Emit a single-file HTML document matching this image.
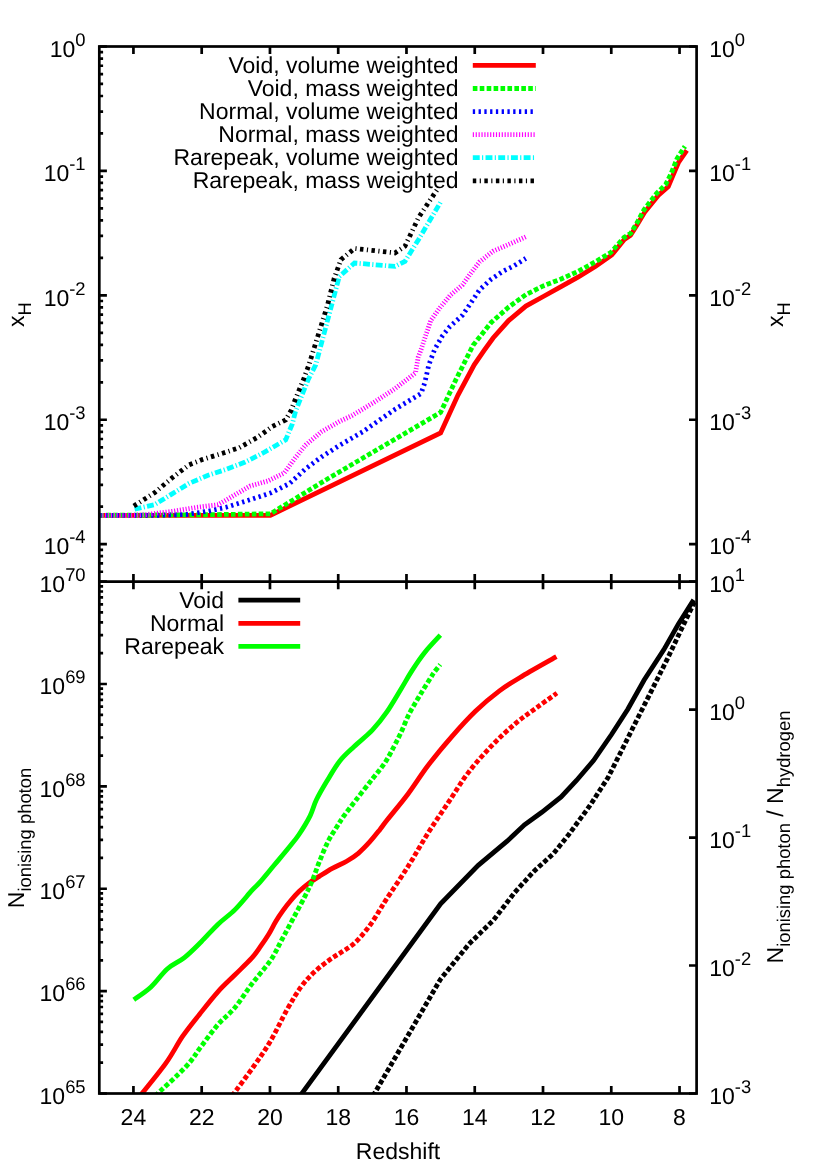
<!DOCTYPE html>
<html><head><meta charset="utf-8"><title>plot</title>
<style>html,body{margin:0;padding:0;background:#fff}svg{display:block;will-change:transform}text{text-rendering:geometricPrecision}</style></head>
<body>
<svg width="830" height="1163" viewBox="0 0 830 1163">
<rect width="100%" height="100%" fill="#fff"/>
<defs><clipPath id="cu"><rect x="99.30" y="46.50" width="597.30" height="535.10"/></clipPath>
<clipPath id="cl"><rect x="99.30" y="581.60" width="597.30" height="511.90"/></clipPath></defs>
<polyline points="99.3,515.3 270.4,515.3 440.6,433.0 458.0,395.0 474.2,364.8 484.5,349.9 493.1,338.0 508.6,320.6 525.9,306.1 543.3,296.5 560.6,286.9 578.0,277.2 595.3,266.6 611.7,255.1 624.3,239.6 630.5,235.4 637.0,225.0 644.6,212.3 658.2,195.4 668.3,186.6 672.7,176.0 678.7,162.1 686.8,150.3" fill="none" stroke="#ff0000" stroke-width="4.80" stroke-linejoin="miter" clip-path="url(#cu)"/>
<polyline points="99.3,515.3 200.0,514.8 270.4,513.8 330.0,477.4 440.6,412.4 455.8,379.9 473.1,345.2 491.2,322.5 508.6,307.1 525.9,294.6 543.3,285.9 560.6,279.2 578.0,271.4 595.3,261.8 610.8,252.5 624.1,237.4 630.7,233.2 637.3,222.3 644.0,209.7 656.6,193.4 665.7,184.4 671.1,173.6 677.1,158.5 684.9,146.4" fill="none" stroke="#00ff00" stroke-width="4.80" stroke-linejoin="miter" stroke-dasharray="4.62 2.31" clip-path="url(#cu)"/>
<polyline points="99.3,515.3 160.0,515.3 186.3,514.5 207.5,511.3 226.0,507.3 247.2,500.7 271.1,492.8 289.6,483.5 305.5,468.9 321.4,457.0 340.0,445.1 362.5,431.9 395.1,409.2 421.1,393.5 424.9,382.3 428.8,364.9 434.6,349.5 442.3,336.0 450.0,326.4 462.4,315.3 470.0,304.2 479.6,289.8 491.2,279.2 502.8,271.4 514.3,265.7 525.8,258.4" fill="none" stroke="#0000ff" stroke-width="4.80" stroke-linejoin="miter" stroke-dasharray="2.31 3.46" clip-path="url(#cu)"/>
<polyline points="99.3,515.3 133.0,515.3 146.5,514.5 173.0,511.3 196.9,507.3 218.1,504.7 234.0,495.4 249.9,486.1 268.4,480.8 284.3,472.9 294.9,458.3 305.5,445.1 321.4,431.8 340.0,421.2 351.7,415.7 373.4,402.7 395.1,388.6 415.5,372.9 418.2,357.2 421.1,349.5 424.9,338.0 430.7,320.6 440.4,307.1 450.0,295.5 462.4,285.0 470.0,274.3 479.6,261.8 493.1,251.2 508.6,244.5 526.3,236.6" fill="none" stroke="#ff00ff" stroke-width="4.80" stroke-linejoin="miter" stroke-dasharray="1.16 1.73" clip-path="url(#cu)"/>
<polyline points="134.6,509.2 154.5,504.7 171.7,494.1 188.9,483.5 207.5,475.5 226.0,469.4 244.6,462.3 263.1,453.0 285.7,439.8 292.3,423.9 295.5,411.3 308.0,380.0 315.7,364.9 332.5,301.8 339.3,276.5 354.5,263.0 395.0,266.4 405.0,261.3 418.6,239.4 440.5,202.3" fill="none" stroke="#00ffff" stroke-width="4.80" stroke-linejoin="miter" stroke-dasharray="6.93 2.31 1.16 2.31" clip-path="url(#cu)"/>
<polyline points="133.8,506.0 154.5,492.8 171.7,478.2 188.9,464.9 202.2,459.6 223.4,453.0 239.3,447.7 257.8,437.1 272.4,426.5 285.7,419.9 291.0,410.6 295.5,398.8 303.3,380.0 308.9,364.9 327.5,305.2 334.2,278.2 341.0,259.6 354.5,248.5 395.0,252.9 405.0,246.2 418.6,217.5 438.8,187.1" fill="none" stroke="#000000" stroke-width="4.80" stroke-linejoin="miter" stroke-dasharray="3.46 3.46 1.16 3.46" clip-path="url(#cu)"/>
<polyline points="300.0,1096.0 440.6,903.9 478.2,865.3 507.1,841.2 524.5,824.8 541.8,812.3 561.1,796.9 576.5,780.5 593.5,760.6 611.5,734.5 627.8,709.2 644.0,680.3 663.9,649.6 678.3,624.3 693.7,599.9" fill="none" stroke="#000000" stroke-width="4.80" stroke-linejoin="miter" clip-path="url(#cl)"/>
<polyline points="373.0,1096.0 440.3,979.5 468.9,944.1 493.6,920.0 514.8,892.3 534.1,871.1 553.4,853.7 568.8,834.5 590.0,805.5 607.9,777.8 622.4,748.9 636.8,720.0 651.3,691.1 667.5,658.6 682.0,627.9 694.6,601.7" fill="none" stroke="#000000" stroke-width="4.80" stroke-linejoin="miter" stroke-dasharray="4.62 2.31" clip-path="url(#cl)"/>
<path d="M140.00 1096.00C144.32 1090.53 158.78 1073.17 165.90 1063.20C173.02 1053.23 177.08 1044.37 182.70 1036.20C188.32 1028.03 193.70 1021.63 199.60 1014.20C205.50 1006.77 212.20 998.17 218.10 991.60C224.00 985.03 229.37 980.42 235.00 974.80C240.63 969.18 247.73 962.50 251.90 957.90C256.07 953.30 257.20 951.15 260.00 947.20C262.80 943.25 266.05 938.53 268.70 934.20C271.35 929.87 273.50 925.17 275.90 921.20C278.30 917.23 280.68 913.77 283.10 910.40C285.52 907.03 287.75 904.13 290.40 901.00C293.05 897.87 295.87 894.62 299.00 891.60C302.13 888.58 305.82 885.43 309.20 882.90C312.58 880.37 315.45 878.82 319.30 876.40C323.15 873.98 327.73 870.93 332.30 868.40C336.87 865.87 342.37 863.72 346.70 861.20C351.03 858.68 354.43 856.55 358.30 853.30C362.17 850.05 366.28 845.68 369.90 841.70C373.52 837.72 377.03 833.13 380.00 829.40C382.97 825.67 383.03 825.20 387.70 819.30C392.37 813.40 401.25 803.00 408.00 794.00C414.75 785.00 420.90 774.87 428.20 765.30C435.50 755.73 443.93 745.60 451.80 736.60C459.67 727.60 467.52 718.88 475.40 711.30C483.28 703.72 491.22 697.00 499.10 691.10C506.98 685.20 513.15 681.63 522.70 675.90C532.25 670.17 550.78 659.90 556.40 656.70" fill="none" stroke="#ff0000" stroke-width="4.80" stroke-linejoin="round" clip-path="url(#cl)"/>
<path d="M232.00 1096.00C235.60 1091.08 247.20 1075.63 253.60 1066.50C260.00 1057.37 264.78 1050.75 270.40 1041.20C276.02 1031.65 282.23 1018.20 287.30 1009.20C292.37 1000.20 296.30 993.38 300.80 987.20C305.30 981.02 309.53 976.63 314.30 972.10C319.07 967.57 324.72 963.42 329.40 960.00C334.08 956.58 338.30 954.33 342.40 951.60C346.50 948.87 350.38 946.73 354.00 943.60C357.62 940.47 360.97 936.53 364.10 932.80C367.23 929.07 370.15 925.07 372.80 921.20C375.45 917.33 377.80 913.15 380.00 909.60C382.20 906.05 381.33 907.08 386.00 899.90C390.67 892.72 400.97 877.68 408.00 866.50C415.03 855.32 421.47 843.48 428.20 832.80C434.93 822.12 441.65 812.52 448.40 802.40C455.15 792.28 461.38 781.65 468.70 772.10C476.02 762.55 484.43 753.27 492.30 745.10C500.17 736.93 508.58 729.28 515.90 723.10C523.22 716.92 529.37 713.00 536.20 708.00C543.03 703.00 553.45 695.58 556.90 693.10" fill="none" stroke="#ff0000" stroke-width="4.80" stroke-linejoin="round" stroke-dasharray="4.62 2.31" clip-path="url(#cl)"/>
<path d="M133.80 999.70C136.62 997.62 145.08 992.37 150.70 987.20C156.32 982.03 161.88 973.63 167.50 968.70C173.12 963.77 178.77 962.10 184.40 957.60C190.03 953.10 195.68 947.27 201.30 941.70C206.92 936.13 212.48 929.55 218.10 924.20C223.72 918.85 229.37 915.23 235.00 909.60C240.63 903.97 247.73 894.97 251.90 890.40C256.07 885.83 256.23 886.47 260.00 882.20C263.77 877.93 269.68 870.58 274.50 864.80C279.32 859.02 284.82 852.55 288.90 847.50C292.98 842.45 295.47 839.77 299.00 834.50C302.53 829.23 307.22 821.65 310.10 815.90C312.98 810.15 313.47 805.85 316.30 800.00C319.13 794.15 323.18 787.30 327.10 780.80C331.02 774.30 335.28 766.72 339.80 761.00C344.32 755.28 348.78 751.63 354.20 746.50C359.62 741.37 366.88 735.92 372.30 730.20C377.72 724.48 381.88 719.12 386.70 712.20C391.52 705.28 396.98 695.63 401.20 688.70C405.42 681.77 408.08 676.63 412.00 670.60C415.92 664.57 419.98 658.40 424.70 652.50C429.42 646.60 437.70 638.08 440.30 635.20" fill="none" stroke="#00ff00" stroke-width="4.80" stroke-linejoin="round" clip-path="url(#cl)"/>
<path d="M155.00 1096.00C160.18 1091.08 178.38 1074.78 186.10 1066.50C193.82 1058.22 195.97 1053.32 201.30 1046.30C206.63 1039.28 212.48 1030.87 218.10 1024.40C223.72 1017.93 229.37 1014.25 235.00 1007.50C240.63 1000.75 245.93 991.82 251.90 983.90C257.87 975.98 265.83 967.32 270.80 960.00C275.77 952.68 277.95 946.95 281.70 940.00C285.45 933.05 289.45 925.53 293.30 918.30C297.15 911.07 301.68 902.75 304.80 896.60C307.92 890.45 309.58 887.18 312.00 881.40C314.42 875.62 316.65 868.52 319.30 861.90C321.95 855.28 325.02 847.48 327.90 841.70C330.78 835.92 333.93 831.50 336.60 827.20C339.27 822.90 340.67 820.43 343.90 815.90C347.13 811.37 351.27 806.15 356.00 800.00C360.73 793.85 367.48 785.20 372.30 779.00C377.12 772.80 381.28 768.22 384.90 762.80C388.52 757.38 391.28 751.62 394.00 746.50C396.72 741.38 398.77 737.35 401.20 732.10C403.63 726.85 406.08 720.13 408.60 715.00C411.12 709.87 413.87 705.52 416.30 701.30C418.73 697.08 420.83 693.58 423.20 689.70C425.57 685.82 428.63 680.95 430.50 678.00C432.37 675.05 432.78 674.25 434.40 672.00C436.02 669.75 439.23 665.75 440.20 664.50" fill="none" stroke="#00ff00" stroke-width="4.80" stroke-linejoin="round" stroke-dasharray="4.62 2.31" clip-path="url(#cl)"/>
<polyline points="472.8,65.4 535.8,65.4" fill="none" stroke="#ff0000" stroke-width="4.80" stroke-linejoin="miter"/>
<text x="458.6" y="72.9" text-anchor="end" style="font-family:'Liberation Sans',sans-serif;fill:#000;font-size:23.00px">Void, volume weighted</text>
<polyline points="472.8,88.5 535.8,88.5" fill="none" stroke="#00ff00" stroke-width="4.80" stroke-linejoin="miter" stroke-dasharray="4.62 2.31"/>
<text x="458.6" y="96.0" text-anchor="end" style="font-family:'Liberation Sans',sans-serif;fill:#000;font-size:23.00px">Void, mass weighted</text>
<polyline points="472.8,111.6 535.8,111.6" fill="none" stroke="#0000ff" stroke-width="4.80" stroke-linejoin="miter" stroke-dasharray="2.31 3.46"/>
<text x="458.6" y="119.1" text-anchor="end" style="font-family:'Liberation Sans',sans-serif;fill:#000;font-size:23.00px">Normal, volume weighted</text>
<polyline points="472.8,134.6 535.8,134.6" fill="none" stroke="#ff00ff" stroke-width="4.80" stroke-linejoin="miter" stroke-dasharray="1.16 1.73"/>
<text x="458.6" y="142.1" text-anchor="end" style="font-family:'Liberation Sans',sans-serif;fill:#000;font-size:23.00px">Normal, mass weighted</text>
<polyline points="472.8,157.7 535.8,157.7" fill="none" stroke="#00ffff" stroke-width="4.80" stroke-linejoin="miter" stroke-dasharray="6.93 2.31 1.16 2.31"/>
<text x="458.6" y="165.2" text-anchor="end" style="font-family:'Liberation Sans',sans-serif;fill:#000;font-size:23.00px">Rarepeak, volume weighted</text>
<polyline points="472.8,180.8 535.8,180.8" fill="none" stroke="#000000" stroke-width="4.80" stroke-linejoin="miter" stroke-dasharray="3.46 3.46 1.16 3.46"/>
<text x="458.6" y="188.3" text-anchor="end" style="font-family:'Liberation Sans',sans-serif;fill:#000;font-size:23.00px">Rarepeak, mass weighted</text>
<polyline points="238.4,600.2 300.2,600.2" fill="none" stroke="#000" stroke-width="4.80" stroke-linejoin="miter"/>
<text x="224" y="607.7" text-anchor="end" style="font-family:'Liberation Sans',sans-serif;fill:#000;font-size:23.00px">Void</text>
<polyline points="238.4,623.3 300.2,623.3" fill="none" stroke="#ff0000" stroke-width="4.80" stroke-linejoin="miter"/>
<text x="224" y="630.8" text-anchor="end" style="font-family:'Liberation Sans',sans-serif;fill:#000;font-size:23.00px">Normal</text>
<polyline points="238.4,646.4 300.2,646.4" fill="none" stroke="#00ff00" stroke-width="4.80" stroke-linejoin="miter"/>
<text x="224" y="653.9" text-anchor="end" style="font-family:'Liberation Sans',sans-serif;fill:#000;font-size:23.00px">Rarepeak</text>
<path d="M679.53 46.50L679.53 54.10M679.53 574.00L679.53 589.20M679.53 1093.50L679.53 1085.90M611.27 46.50L611.27 54.10M611.27 574.00L611.27 589.20M611.27 1093.50L611.27 1085.90M543.01 46.50L543.01 54.10M543.01 574.00L543.01 589.20M543.01 1093.50L543.01 1085.90M474.75 46.50L474.75 54.10M474.75 574.00L474.75 589.20M474.75 1093.50L474.75 1085.90M406.48 46.50L406.48 54.10M406.48 574.00L406.48 589.20M406.48 1093.50L406.48 1085.90M338.22 46.50L338.22 54.10M338.22 574.00L338.22 589.20M338.22 1093.50L338.22 1085.90M269.96 46.50L269.96 54.10M269.96 574.00L269.96 589.20M269.96 1093.50L269.96 1085.90M201.69 46.50L201.69 54.10M201.69 574.00L201.69 589.20M201.69 1093.50L201.69 1085.90M133.43 46.50L133.43 54.10M133.43 574.00L133.43 589.20M133.43 1093.50L133.43 1085.90M99.30 544.15L106.90 544.15M696.60 544.15L689.00 544.15M99.30 419.74L106.90 419.74M696.60 419.74L689.00 419.74M99.30 295.32L106.90 295.32M696.60 295.32L689.00 295.32M99.30 170.91L106.90 170.91M696.60 170.91L689.00 170.91M99.30 46.50L106.90 46.50M696.60 46.50L689.00 46.50M99.30 581.60L103.10 581.60M99.30 571.75L103.10 571.75M99.30 563.42L103.10 563.42M99.30 556.21L103.10 556.21M99.30 549.84L103.10 549.84M99.30 506.70L103.10 506.70M99.30 484.79L103.10 484.79M99.30 469.24L103.10 469.24M99.30 457.19L103.10 457.19M99.30 447.34L103.10 447.34M99.30 439.01L103.10 439.01M99.30 431.79L103.10 431.79M99.30 425.43L103.10 425.43M99.30 382.28L103.10 382.28M99.30 360.38L103.10 360.38M99.30 344.83L103.10 344.83M99.30 332.78L103.10 332.78M99.30 322.92L103.10 322.92M99.30 314.60L103.10 314.60M99.30 307.38L103.10 307.38M99.30 301.02L103.10 301.02M99.30 257.87L103.10 257.87M99.30 235.96L103.10 235.96M99.30 220.42L103.10 220.42M99.30 208.36L103.10 208.36M99.30 198.51L103.10 198.51M99.30 190.18L103.10 190.18M99.30 182.97L103.10 182.97M99.30 176.60L103.10 176.60M99.30 133.46L103.10 133.46M99.30 111.55L103.10 111.55M99.30 96.01L103.10 96.01M99.30 83.95L103.10 83.95M99.30 74.10L103.10 74.10M99.30 65.77L103.10 65.77M99.30 58.56L103.10 58.56M99.30 52.19L103.10 52.19M99.30 1093.50L106.90 1093.50M99.30 991.12L106.90 991.12M99.30 888.74L106.90 888.74M99.30 786.36L106.90 786.36M99.30 683.98L106.90 683.98M99.30 581.60L106.90 581.60M99.30 1062.68L103.10 1062.68M99.30 1044.65L103.10 1044.65M99.30 1031.86L103.10 1031.86M99.30 1021.94L103.10 1021.94M99.30 1013.83L103.10 1013.83M99.30 1006.98L103.10 1006.98M99.30 1001.04L103.10 1001.04M99.30 995.80L103.10 995.80M99.30 960.30L103.10 960.30M99.30 942.27L103.10 942.27M99.30 929.48L103.10 929.48M99.30 919.56L103.10 919.56M99.30 911.45L103.10 911.45M99.30 904.60L103.10 904.60M99.30 898.66L103.10 898.66M99.30 893.42L103.10 893.42M99.30 857.92L103.10 857.92M99.30 839.89L103.10 839.89M99.30 827.10L103.10 827.10M99.30 817.18L103.10 817.18M99.30 809.07L103.10 809.07M99.30 802.22L103.10 802.22M99.30 796.28L103.10 796.28M99.30 791.04L103.10 791.04M99.30 755.54L103.10 755.54M99.30 737.51L103.10 737.51M99.30 724.72L103.10 724.72M99.30 714.80L103.10 714.80M99.30 706.69L103.10 706.69M99.30 699.84L103.10 699.84M99.30 693.90L103.10 693.90M99.30 688.66L103.10 688.66M99.30 653.16L103.10 653.16M99.30 635.13L103.10 635.13M99.30 622.34L103.10 622.34M99.30 612.42L103.10 612.42M99.30 604.31L103.10 604.31M99.30 597.46L103.10 597.46M99.30 591.52L103.10 591.52M99.30 586.28L103.10 586.28M696.60 1093.50L689.00 1093.50M696.60 965.52L689.00 965.52M696.60 837.55L689.00 837.55M696.60 709.58L689.00 709.58M696.60 581.60L689.00 581.60" stroke="#000" stroke-width="2.70" fill="none"/>
<rect x="99.30" y="46.50" width="597.30" height="1047.00" fill="none" stroke="#000" stroke-width="2.70"/>
<line x1="99.30" y1="581.60" x2="696.60" y2="581.60" stroke="#000" stroke-width="2.70"/>
<text x="85.6" y="554.3" text-anchor="end" style="font-family:'Liberation Sans',sans-serif;fill:#000;font-size:23.00px">10<tspan dy="-11" style="font-size:18.40px">-4</tspan></text>
<text x="709.2" y="554.3" text-anchor="start" style="font-family:'Liberation Sans',sans-serif;fill:#000;font-size:23.00px">10<tspan dy="-11" style="font-size:18.40px">-4</tspan></text>
<text x="85.6" y="429.9" text-anchor="end" style="font-family:'Liberation Sans',sans-serif;fill:#000;font-size:23.00px">10<tspan dy="-11" style="font-size:18.40px">-3</tspan></text>
<text x="709.2" y="429.9" text-anchor="start" style="font-family:'Liberation Sans',sans-serif;fill:#000;font-size:23.00px">10<tspan dy="-11" style="font-size:18.40px">-3</tspan></text>
<text x="85.6" y="305.5" text-anchor="end" style="font-family:'Liberation Sans',sans-serif;fill:#000;font-size:23.00px">10<tspan dy="-11" style="font-size:18.40px">-2</tspan></text>
<text x="709.2" y="305.5" text-anchor="start" style="font-family:'Liberation Sans',sans-serif;fill:#000;font-size:23.00px">10<tspan dy="-11" style="font-size:18.40px">-2</tspan></text>
<text x="85.6" y="181.1" text-anchor="end" style="font-family:'Liberation Sans',sans-serif;fill:#000;font-size:23.00px">10<tspan dy="-11" style="font-size:18.40px">-1</tspan></text>
<text x="709.2" y="181.1" text-anchor="start" style="font-family:'Liberation Sans',sans-serif;fill:#000;font-size:23.00px">10<tspan dy="-11" style="font-size:18.40px">-1</tspan></text>
<text x="85.6" y="56.7" text-anchor="end" style="font-family:'Liberation Sans',sans-serif;fill:#000;font-size:23.00px">10<tspan dy="-11" style="font-size:18.40px">0</tspan></text>
<text x="709.2" y="56.7" text-anchor="start" style="font-family:'Liberation Sans',sans-serif;fill:#000;font-size:23.00px">10<tspan dy="-11" style="font-size:18.40px">0</tspan></text>
<text x="85.6" y="1103.7" text-anchor="end" style="font-family:'Liberation Sans',sans-serif;fill:#000;font-size:23.00px">10<tspan dy="-11" style="font-size:18.40px">65</tspan></text>
<text x="85.6" y="1001.3" text-anchor="end" style="font-family:'Liberation Sans',sans-serif;fill:#000;font-size:23.00px">10<tspan dy="-11" style="font-size:18.40px">66</tspan></text>
<text x="85.6" y="898.9" text-anchor="end" style="font-family:'Liberation Sans',sans-serif;fill:#000;font-size:23.00px">10<tspan dy="-11" style="font-size:18.40px">67</tspan></text>
<text x="85.6" y="796.6" text-anchor="end" style="font-family:'Liberation Sans',sans-serif;fill:#000;font-size:23.00px">10<tspan dy="-11" style="font-size:18.40px">68</tspan></text>
<text x="85.6" y="694.2" text-anchor="end" style="font-family:'Liberation Sans',sans-serif;fill:#000;font-size:23.00px">10<tspan dy="-11" style="font-size:18.40px">69</tspan></text>
<text x="85.6" y="591.8" text-anchor="end" style="font-family:'Liberation Sans',sans-serif;fill:#000;font-size:23.00px">10<tspan dy="-11" style="font-size:18.40px">70</tspan></text>
<text x="709.2" y="1103.7" text-anchor="start" style="font-family:'Liberation Sans',sans-serif;fill:#000;font-size:23.00px">10<tspan dy="-11" style="font-size:18.40px">-3</tspan></text>
<text x="709.2" y="975.7" text-anchor="start" style="font-family:'Liberation Sans',sans-serif;fill:#000;font-size:23.00px">10<tspan dy="-11" style="font-size:18.40px">-2</tspan></text>
<text x="709.2" y="847.8" text-anchor="start" style="font-family:'Liberation Sans',sans-serif;fill:#000;font-size:23.00px">10<tspan dy="-11" style="font-size:18.40px">-1</tspan></text>
<text x="709.2" y="719.8" text-anchor="start" style="font-family:'Liberation Sans',sans-serif;fill:#000;font-size:23.00px">10<tspan dy="-11" style="font-size:18.40px">0</tspan></text>
<text x="709.2" y="591.8" text-anchor="start" style="font-family:'Liberation Sans',sans-serif;fill:#000;font-size:23.00px">10<tspan dy="-11" style="font-size:18.40px">1</tspan></text>
<text x="679.5" y="1124.6" text-anchor="middle" style="font-family:'Liberation Sans',sans-serif;fill:#000;font-size:23.00px">8</text>
<text x="611.3" y="1124.6" text-anchor="middle" style="font-family:'Liberation Sans',sans-serif;fill:#000;font-size:23.00px">10</text>
<text x="543.0" y="1124.6" text-anchor="middle" style="font-family:'Liberation Sans',sans-serif;fill:#000;font-size:23.00px">12</text>
<text x="474.7" y="1124.6" text-anchor="middle" style="font-family:'Liberation Sans',sans-serif;fill:#000;font-size:23.00px">14</text>
<text x="406.5" y="1124.6" text-anchor="middle" style="font-family:'Liberation Sans',sans-serif;fill:#000;font-size:23.00px">16</text>
<text x="338.2" y="1124.6" text-anchor="middle" style="font-family:'Liberation Sans',sans-serif;fill:#000;font-size:23.00px">18</text>
<text x="270.0" y="1124.6" text-anchor="middle" style="font-family:'Liberation Sans',sans-serif;fill:#000;font-size:23.00px">20</text>
<text x="201.7" y="1124.6" text-anchor="middle" style="font-family:'Liberation Sans',sans-serif;fill:#000;font-size:23.00px">22</text>
<text x="133.4" y="1124.6" text-anchor="middle" style="font-family:'Liberation Sans',sans-serif;fill:#000;font-size:23.00px">24</text>
<text x="398" y="1158.6" text-anchor="middle" style="font-family:'Liberation Sans',sans-serif;fill:#000;font-size:23.00px">Redshift</text>
<text transform="translate(24.0 314.5) rotate(-90)" text-anchor="middle" style="font-family:'Liberation Sans',sans-serif;fill:#000;font-size:23.00px">x<tspan dy="7" style="font-size:18.40px">H</tspan></text>
<text transform="translate(783.0 314.5) rotate(-90)" text-anchor="middle" style="font-family:'Liberation Sans',sans-serif;fill:#000;font-size:23.00px">x<tspan dy="7" style="font-size:18.40px">H</tspan></text>
<text transform="translate(23.8 838.0) rotate(-90)" text-anchor="middle" style="font-family:'Liberation Sans',sans-serif;fill:#000;font-size:23.00px">N<tspan dy="7" style="font-size:18.40px">ionising photon</tspan></text>
<text transform="translate(782.6 837.0) rotate(-90)" text-anchor="middle" style="font-family:'Liberation Sans',sans-serif;fill:#000;font-size:23.00px">N<tspan dy="7" style="font-size:18.40px">ionising photon</tspan><tspan dy="-7"> / N</tspan><tspan dy="7" style="font-size:18.40px">hydrogen</tspan></text>
</svg>
</body></html>
